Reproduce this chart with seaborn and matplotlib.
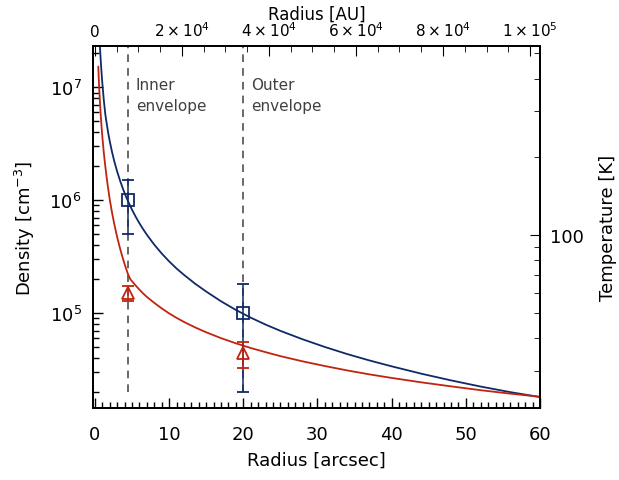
import matplotlib
matplotlib.use("Agg")
import matplotlib.pyplot as plt
import matplotlib.ticker as mticker
import numpy as np
import pandas as pd
import seaborn as sns

# Density profiles (radius in arcsec, density in cm^-3)
blue_r = [0.5, 0.6, 0.7, 0.8, 0.9, 1.0, 1.2, 1.4, 1.6, 1.8, 2.0, 2.3, 2.6, 3.0,
          3.4, 3.8, 4.2, 4.6, 5.0, 5.5, 6.0, 6.5, 7.0, 8, 9, 10, 11, 12, 13.5, 15,
          17, 19, 21, 23, 25, 28, 31, 34, 37, 40, 44, 48, 52, 56, 60]
blue_n = [4.0e7, 2.85e7, 2.12e7, 1.65e7, 1.32e7, 1.08e7, 7.63e6, 5.75e6, 4.7e6,
          3.89e6, 3.32e6, 2.68e6, 2.22e6, 1.79e6, 1.48e6, 1.25e6, 1.07e6, 9.35e5,
          8.23e5, 7.12e5, 6.24e5, 5.53e5, 4.94e5, 4.03e5, 3.37e5, 2.87e5, 2.48e5,
          2.18e5, 1.82e5, 1.55e5, 1.27e5, 1.065e5, 9.1e4, 7.9e4, 6.95e4, 5.85e4,
          5.0e4, 4.33e4, 3.8e4, 3.37e4, 2.9e4, 2.53e4, 2.23e4, 1.99e4, 1.8e4]

red_r = [0.45, 0.5, 0.6, 0.7, 0.8, 0.9, 1.0, 1.2, 1.35, 1.5, 1.7, 2.0, 2.3, 2.6,
         3.0, 3.4, 3.8, 4.2, 4.49, 4.8, 5.16, 5.6, 6.0, 6.5, 7, 8, 9, 10, 11, 12,
         13.5, 15, 17, 19, 21, 23, 25, 28, 31, 34, 37, 40, 44, 48, 52, 56, 60]
red_n = [1.53e7, 1.26e7, 9.1e6, 6.9e6, 5.43e6, 4.39e6, 3.63e6, 2.61e6, 2.12e6,
         1.75e6, 1.38e6, 1.01e6, 7.77e5, 6.16e5, 4.69e5, 3.7e5, 2.99e5, 2.47e5,
         2.18e5, 1.98e5, 1.86e5, 1.72e5, 1.61e5, 1.49e5, 1.39e5, 1.23e5, 1.1e5,
         9.92e4, 9.06e4, 8.34e4, 7.46e4, 6.75e4, 5.99e4, 5.39e4, 4.9e4, 4.5e4,
         4.15e4, 3.73e4, 3.39e4, 3.1e4, 2.86e4, 2.66e4, 2.43e4, 2.24e4, 2.07e4,
         1.93e4, 1.81e4]

# Observed points with error bars
obs_r = [4.5, 20]
sq_n = [1.0e6, 1.0e5]
sq_err = [5.0e5, 8.0e4]
tri_n = [1.5e5, 4.4e4]
tri_err = [2.2e4, 1.15e4]

region_x = [4.5, 20]
region_text = ["Inner\nenvelope", "Outer\nenvelope"]

au_ticks = [0, 2e4, 4e4, 6e4, 8e4, 1e5]
au_labels = ["0", r"$2\times10^4$", r"$4\times10^4$", r"$6\times10^4$",
             r"$8\times10^4$", r"$1\times10^5$"]
au_per_arcsec = 1705

blue = "#0f2a66"
red = "#c02410"
gray = "#404040"

sns.set_style("ticks")
plt.rcParams["font.family"] = ["DejaVu Sans"]
plt.rcParams.update({"text.color": "black", "axes.labelcolor": "black",
                     "xtick.color": "black", "ytick.color": "black"})

fig = plt.figure(figsize=(6.19, 4.81), dpi=100)
ax = fig.add_axes([0.1498, 0.1497, 0.8724 - 0.1498, 0.9029 - 0.1497])

df_blue = pd.DataFrame({"r": blue_r, "n": blue_n})
df_red = pd.DataFrame({"r": red_r, "n": red_n})
sns.lineplot(data=df_blue, x="r", y="n", color=blue, lw=1.3, ax=ax, estimator=None)
sns.lineplot(data=df_red, x="r", y="n", color=red, lw=1.3, ax=ax, estimator=None)

for x in region_x:
    ax.plot([x, x], [2.0e4, 2.4e7], color=gray, lw=1.1, ls=(0, (5, 4)), zorder=1)

ax.errorbar(obs_r, sq_n, yerr=sq_err, fmt="s", ms=9, mfc="none", mec=blue,
            mew=1.3, ecolor=blue, elinewidth=1.1, capsize=4, capthick=1.1, zorder=3)
ax.errorbar(obs_r, tri_n, yerr=tri_err, fmt="^", ms=9, mfc="none", mec=red,
            mew=1.3, ecolor=red, elinewidth=1.1, capsize=4, capthick=1.1, zorder=3)

for x, t in zip(region_x, region_text):
    ax.text(x + 1.0, 8.6e6, t, color=gray, fontsize=11, va="center", ha="left",
            linespacing=1.5)

ax.set_yscale("log")
ax.set_xlim(-0.3, 60)
ax.set_ylim(1.44e4, 2.34e7)
ax.xaxis.set_major_locator(mticker.MultipleLocator(10))
ax.xaxis.set_minor_locator(mticker.MultipleLocator(1))
ax.yaxis.set_major_locator(mticker.LogLocator(base=10))
ax.yaxis.set_minor_locator(mticker.LogLocator(base=10, subs=np.arange(2, 10)))
ax.yaxis.set_minor_formatter(mticker.NullFormatter())
ax.set_xlabel("Radius [arcsec]", fontsize=13, labelpad=6)
ax.set_ylabel(r"Density [cm$^{-3}$]", fontsize=13, labelpad=9)
ax.tick_params(axis="both", which="both", direction="in", top=False, right=False,
               labelsize=13, width=1)
ax.tick_params(axis="x", which="major", length=7, pad=12)
ax.tick_params(axis="y", which="major", length=7, pad=8)
ax.tick_params(which="minor", length=4)

ax_top = ax.twiny()
ax_top.set_xlim(-0.3 * au_per_arcsec, 60 * au_per_arcsec)
ax_top.set_xticks(au_ticks)
ax_top.set_xticklabels(au_labels)
ax_top.xaxis.set_minor_locator(mticker.MultipleLocator(5000))
ax_top.tick_params(axis="x", which="both", direction="in", labelsize=11, pad=5)
ax_top.tick_params(axis="x", which="major", length=7)
ax_top.tick_params(axis="x", which="minor", length=4)
ax_top.set_xlabel("Radius [AU]", fontsize=12, labelpad=1)

ax_right = ax.twinx()
ax_right.set_yscale("log")
ax_right.set_ylim(21.6, 535)
ax_right.yaxis.set_major_locator(mticker.FixedLocator([100]))
ax_right.yaxis.set_major_formatter(mticker.FixedFormatter(["100"]))
ax_right.yaxis.set_minor_locator(mticker.LogLocator(base=10, subs=np.arange(2, 10)))
ax_right.yaxis.set_minor_formatter(mticker.NullFormatter())
ax_right.tick_params(axis="y", which="both", direction="in", labelsize=13, pad=7)
ax_right.tick_params(axis="y", which="major", length=7)
ax_right.tick_params(axis="y", which="minor", length=4)
ax_right.set_ylabel("Temperature [K]", fontsize=13, labelpad=11)

for a in (ax, ax_top, ax_right):
    for s in a.spines.values():
        s.set_linewidth(1.2)
        s.set_color("black")

fig.savefig("out.png", dpi=100)
